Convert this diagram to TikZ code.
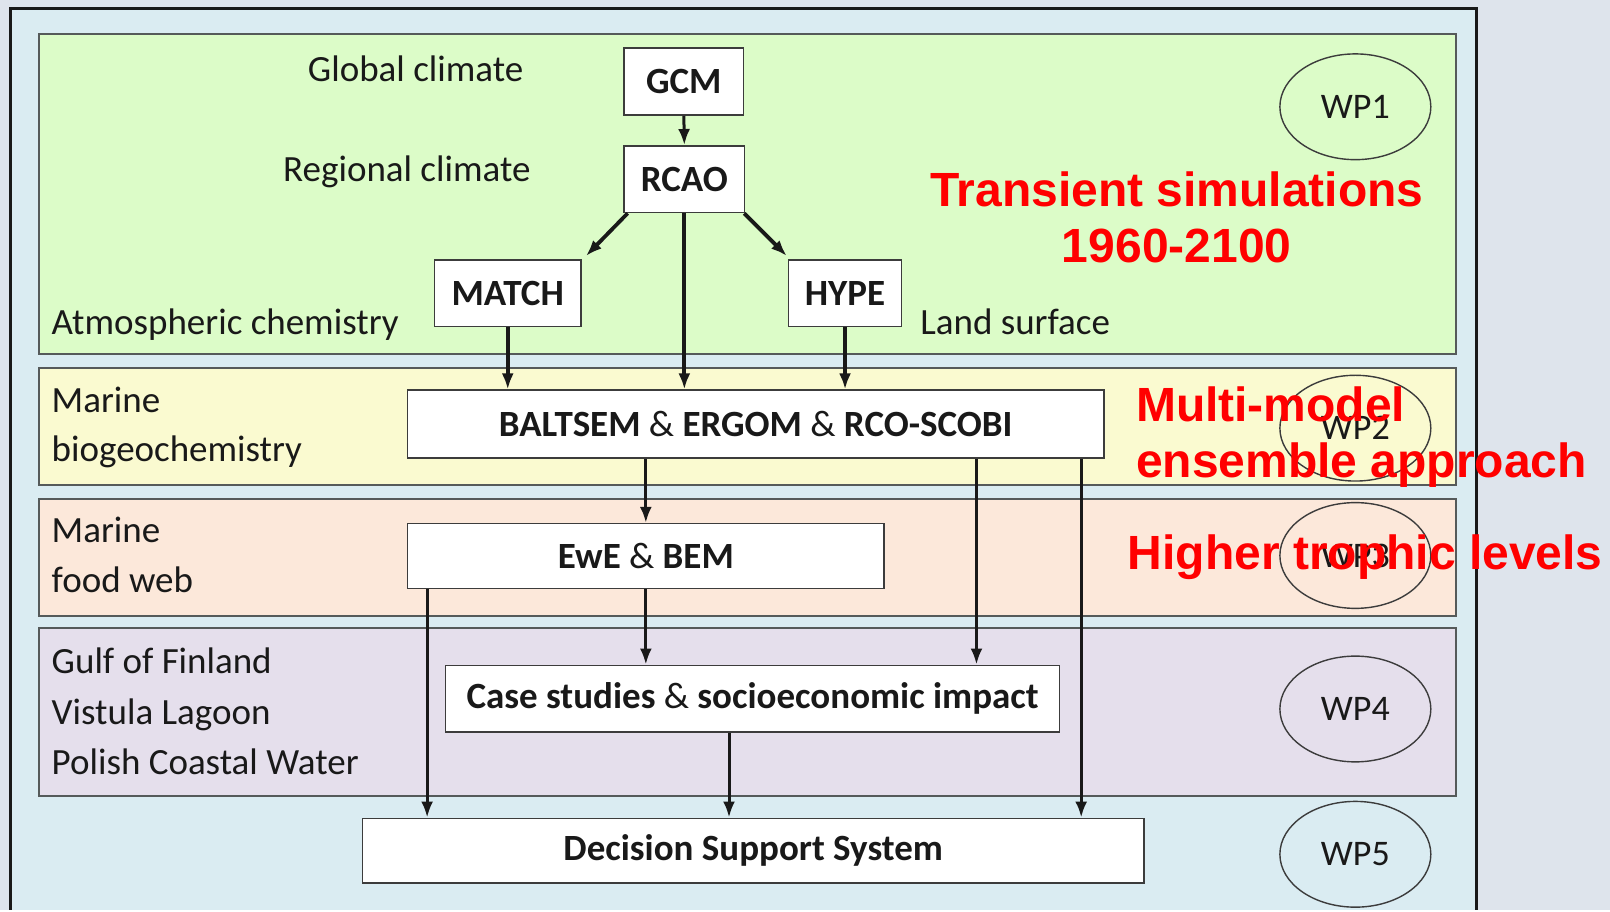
\documentclass[tikz,border=0pt]{standalone}
\usepackage{fontspec}
\setmainfont{Carlito}
\newfontfamily\redfont{Liberation Sans}
\usetikzlibrary{arrows.meta,shapes.geometric,calc}
\newlength\ux
\setlength\ux{0.5135pt}
\definecolor{outbg}{RGB}{222,228,236}
\definecolor{inbg}{RGB}{218,236,242}
\definecolor{gband}{RGB}{220,252,200}
\definecolor{yband}{RGB}{250,250,208}
\definecolor{oband}{RGB}{252,232,218}
\definecolor{pband}{RGB}{229,223,236}
\definecolor{bandline}{RGB}{85,90,90}
\definecolor{boxline}{RGB}{60,60,60}
\definecolor{txt}{RGB}{25,25,25}
\definecolor{redtxt}{RGB}{255,0,0}
\begin{document}
\begin{tikzpicture}[x=0.5135pt,y=-0.5135pt,
  band/.style={draw=bandline,line width=1pt},
  box/.style={draw=boxline,fill=white,line width=0.8pt,inner sep=0pt,font=\bfseries\fontsize{18.5}{22}\selectfont,text=txt},
  lbl/.style={font=\fontsize{18.5}{22}\selectfont,text=txt,inner sep=0pt},
  wp/.style={draw=boxline,line width=0.7pt,ellipse,inner sep=0pt,minimum width=147\ux,minimum height=103\ux,font=\fontsize{18}{22}\selectfont,text=txt},
  redlbl/.style={font=\redfont\bfseries\fontsize{24}{28}\selectfont,text=redtxt,inner sep=0pt},
  arr/.style={line width=1.5pt,draw=txt,-{Latex[length=8pt,width=6pt]}},
  thickarr/.style={arr,line width=1.9pt}]
% background
\fill[outbg] (0,0) rectangle (1568,886);
\fill[inbg] (10,8) rectangle (1438,886);
\draw[draw=txt,line width=1.5pt] (10,886) -- (10,8) -- (1438,8) -- (1438,886);
% bands
\draw[band,fill=gband] (38,33) rectangle (1418,345);
\draw[band,fill=yband] (38,358) rectangle (1418,472);
\draw[band,fill=oband] (38,486) rectangle (1418,600);
\draw[band,fill=pband] (38,612) rectangle (1418,775);
% WP ellipses
\node[wp] (wp1) at (1320,104) {WP1};
\node[wp] (wp2) at (1320,417) {WP2};
\node[wp] (wp3) at (1320,541) {WP3};
\node[wp] (wp4) at (1320,690.5) {WP4};
\node[wp] (wp5) at (1320,832) {WP5};
% boxes
\node[box,minimum width=116\ux,minimum height=65\ux] (gcm) at (666,79.5) {GCM};
\node[box,minimum width=117\ux,minimum height=65\ux] (rcao) at (666.5,174.5) {RCAO};
\node[box,minimum width=143\ux,minimum height=65\ux] (match) at (494.5,285.5) {MATCH};
\node[box,minimum width=110\ux,minimum height=65\ux] (hype) at (823,285.5) {HYPE};
\node[box,minimum width=678\ux,minimum height=66\ux] (balt) at (736,413) {BALTSEM {\mdseries\&} ERGOM {\mdseries\&} RCO-SCOBI};
\node[box,minimum width=464\ux,minimum height=63\ux] (ewe) at (629,541.5) {EwE {\mdseries\&} BEM};
\node[box,minimum width=598\ux,minimum height=65\ux] (case) at (733,680.5) {Case studies {\mdseries\&} socioeconomic impact};
\node[box,minimum width=761\ux,minimum height=63\ux] (dss) at (733.5,828.5) {Decision Support System};
% labels
\node[lbl,anchor=base east] (glob) at (510,79.5) {Global climate};
\node[lbl,anchor=base east] (reg) at (517,177) {Regional climate};
\node[lbl,anchor=base west] (atm) at (50,326) {Atmospheric chemistry};
\node[lbl,anchor=base west] (land) at (896,326) {Land surface};
\node[lbl,anchor=base west] (mar1) at (50,402) {Marine};
\node[lbl,anchor=base west] (mar2) at (50,449.5) {biogeochemistry};
\node[lbl,anchor=base west] (fw1) at (50,528.5) {Marine};
\node[lbl,anchor=base west] (fw2) at (50,577) {food web};
\node[lbl,anchor=base west] (gof) at (50,655.5) {Gulf of Finland};
\node[lbl,anchor=base west] (vis) at (50,706) {Vistula Lagoon};
\node[lbl,anchor=base west] (pol) at (50,754) {Polish Coastal Water};
% connector x positions
\coordinate (x416) at (416,0);
\coordinate (x629) at (629,0);
\coordinate (x710) at (710,0);
\coordinate (x951) at (951,0);
\coordinate (x1053) at (1053,0);
% arrows
\draw[arr] (gcm.south) -- (rcao.north);
\draw[thickarr] ($(rcao.south west)+(4,0)$) -- ($(match.north east)+(4,-3)$);
\draw[thickarr] ($(rcao.south east)+(-1,0)$) -- ($(hype.north west)+(-1,-3)$);
\draw[thickarr] (rcao.south) -- (rcao.south |- balt.north);
\draw[thickarr] (match.south) -- (match.south |- balt.north);
\draw[thickarr] (hype.south) -- (hype.south |- balt.north);
\draw[arr] (balt.south -| x629) -- (ewe.north -| x629);
\draw[arr] (ewe.south -| x629) -- (case.north -| x629);
\draw[arr] (balt.south -| x951) -- (case.north -| x951);
\draw[arr] (balt.south -| x1053) -- (dss.north -| x1053);
\draw[arr] (ewe.south -| x416) -- (dss.north -| x416);
\draw[arr] (case.south -| x710) -- (dss.north -| x710);
% red text
\node[redlbl,anchor=base] (tr1) at (1146,201) {Transient simulations};
\node[redlbl,anchor=base] (tr2) at (1146,256) {1960-2100};
\node[redlbl,anchor=base west] (mm1) at (1106,410.5) {Multi-model};
\node[redlbl,anchor=base west] (mm2) at (1106,465.5) {ensemble approach};
\node[redlbl,anchor=base west] (htl) at (1098,555) {Higher trophic levels};
\end{tikzpicture}
\end{document}
